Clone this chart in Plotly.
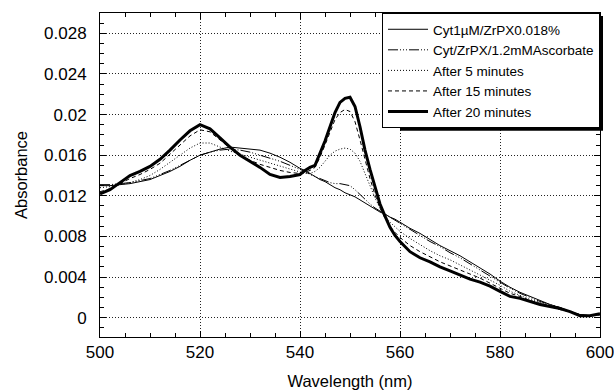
import plotly.graph_objects as go

wavelength = [500, 502, 504, 506, 508, 510, 512, 514, 516, 518, 520, 522, 524, 526, 528, 530,
              532, 534, 536, 538, 540, 541, 542, 543, 544, 545, 546, 547, 548, 549, 550, 551,
              552, 553, 554, 555, 556, 557, 558, 559, 560, 562, 564, 566, 568, 570, 572, 574,
              576, 578, 580, 582, 584, 586, 588, 590, 592, 594, 596, 598, 600]

cyt_initial = [0.0130, 0.0130, 0.0131, 0.0132, 0.0134, 0.0136, 0.0140, 0.0144, 0.0149, 0.0155,
               0.0160, 0.0163, 0.0166, 0.0168, 0.0167, 0.0166, 0.0165, 0.0162, 0.0158, 0.0153,
               0.0147, 0.0145, 0.0142, 0.0139, 0.0136, 0.0134, 0.0131, 0.0128, 0.0126, 0.0123,
               0.0121, 0.0119, 0.0116, 0.0113, 0.0110, 0.0107, 0.0104, 0.0102, 0.0099, 0.0097,
               0.0094, 0.0088, 0.0083, 0.0077, 0.0071, 0.0066, 0.0061, 0.0055, 0.0049, 0.0043,
               0.0036, 0.0030, 0.0025, 0.0021, 0.0017, 0.0013, 0.0010, 0.0006, 0.0003, 0.0002,
               0.0003]

cyt_ascorbate = [0.0131, 0.0131, 0.0132, 0.0133, 0.0135, 0.0137, 0.0141, 0.0145, 0.0150, 0.0155,
                 0.0160, 0.0163, 0.0165, 0.0166, 0.0165, 0.0163, 0.0160, 0.0157, 0.0154, 0.0150,
                 0.0146, 0.0144, 0.0141, 0.0139, 0.0137, 0.0135, 0.0133, 0.0132, 0.0132, 0.0131,
                 0.0130, 0.0126, 0.0121, 0.0116, 0.0112, 0.0108, 0.0105, 0.0102, 0.0099, 0.0096,
                 0.0093, 0.0087, 0.0081, 0.0075, 0.0070, 0.0064, 0.0059, 0.0053, 0.0047, 0.0041,
                 0.0035, 0.0029, 0.0024, 0.0020, 0.0016, 0.0013, 0.0010, 0.0006, 0.0003, 0.0002,
                 0.0003]

after_5 = [0.0128, 0.0129, 0.0131, 0.0133, 0.0136, 0.0140, 0.0146, 0.0153, 0.0160, 0.0167,
           0.0172, 0.0172, 0.0168, 0.0164, 0.0161, 0.0158, 0.0155, 0.0152, 0.0149, 0.0146,
           0.0143, 0.0142, 0.0142, 0.0144, 0.0148, 0.0154, 0.0160, 0.0164, 0.0166, 0.0167,
           0.0166, 0.0162, 0.0154, 0.0142, 0.0130, 0.0118, 0.0108, 0.0100, 0.0094, 0.0089,
           0.0085, 0.0078, 0.0072, 0.0066, 0.0061, 0.0057, 0.0052, 0.0047, 0.0042, 0.0037,
           0.0032, 0.0026, 0.0022, 0.0018, 0.0015, 0.0012, 0.0009, 0.0006, 0.0003, 0.0002,
           0.0003]

after_15 = [0.0124, 0.0127, 0.0132, 0.0137, 0.0141, 0.0146, 0.0152, 0.0161, 0.0170, 0.0179,
            0.0185, 0.0183, 0.0175, 0.0167, 0.0160, 0.0155, 0.0151, 0.0148, 0.0145, 0.0143,
            0.0142, 0.0143, 0.0145, 0.0148, 0.0158, 0.0170, 0.0183, 0.0195, 0.0202, 0.0205,
            0.0203, 0.0193, 0.0175, 0.0155, 0.0137, 0.0121, 0.0108, 0.0098, 0.0090, 0.0084,
            0.0079, 0.0071, 0.0065, 0.0060, 0.0055, 0.0051, 0.0047, 0.0043, 0.0039, 0.0034,
            0.0029, 0.0024, 0.0021, 0.0017, 0.0014, 0.0011, 0.0008, 0.0006, 0.0002, 0.0002,
            0.0003]

after_20 = [0.0122, 0.0126, 0.0133, 0.0140, 0.0144, 0.0149, 0.0156, 0.0165, 0.0175, 0.0184,
            0.0190, 0.0186, 0.0177, 0.0168, 0.0160, 0.0154, 0.0148, 0.0141, 0.0138, 0.0139,
            0.0141, 0.0145, 0.0148, 0.0150, 0.0162, 0.0174, 0.0188, 0.0202, 0.0212, 0.0216,
            0.0217, 0.0208, 0.0188, 0.0165, 0.0146, 0.0128, 0.0112, 0.0100, 0.0089, 0.0081,
            0.0075, 0.0065, 0.0059, 0.0055, 0.0050, 0.0046, 0.0042, 0.0038, 0.0035, 0.0031,
            0.0026, 0.0021, 0.0019, 0.0016, 0.0013, 0.0011, 0.0009, 0.0006, 0.0002, 0.0002,
            0.0004]

series_names = ["Cyt1\u00b5M/ZrPX0.018%", "Cyt/ZrPX/1.2mMAscorbate", "After 5 minutes",
                "After 15 minutes", "After 20 minutes"]
series_values = [cyt_initial, cyt_ascorbate, after_5, after_15, after_20]
series_dash = ["solid", "10px,2px,1px,2px,1px,2px,1px,2px", "1px,2px", "4px,3px", "solid"]
series_width = [1, 1, 1, 1, 3]

x_ticks = [500, 520, 540, 560, 580, 600]
y_ticks = [0, 0.004, 0.008, 0.012, 0.016, 0.02, 0.024, 0.028]
y_tick_labels = ["0", "0.004", "0.008", "0.012", "0.016", "0.02", "0.024", "0.028"]

fig = go.Figure()
for name, vals, dash, w in zip(series_names, series_values, series_dash, series_width):
    fig.add_trace(go.Scatter(x=wavelength, y=vals, mode="lines", name=name,
                             line=dict(color="black", width=w, dash=dash)))

font_family = "Liberation Sans, Arial, Helvetica, sans-serif"

# legend geometry (plotly: item height = 1.3*font + 3, plus 2*(border+5) padding)
W, H = 614, 391
ML, MR, MT, MB = 100, 14, 13, 54
legend_font = 13.5
legend_h_px = len(series_names) * (legend_font * 1.3 + 3) + 12
plot_h = H - MT - MB
plot_w = W - ML - MR
shadow_off = 3
fig.add_shape(type="rect", xref="paper", yref="paper", layer="above",
              x0=0.6, x1=1 + shadow_off / plot_w,
              y0=1 - (legend_h_px + shadow_off) / plot_h, y1=1 - shadow_off / plot_h,
              fillcolor="black", line=dict(width=0))

fig.update_layout(
    width=W, height=H,
    margin=dict(l=ML, r=MR, t=MT, b=MB, autoexpand=False),
    paper_bgcolor="white", plot_bgcolor="white",
    font=dict(family=font_family, size=16, color="black"),
    showlegend=True,
    legend=dict(x=1.0, y=1.0, xanchor="right", yanchor="top",
                bgcolor="white", bordercolor="black", borderwidth=1,
                font=dict(size=legend_font, family=font_family),
                tracegroupgap=0, itemwidth=40),
)

fig.update_xaxes(
    range=[500, 600], tickvals=x_ticks, ticks="inside", ticklen=6, tickcolor="black",
    showline=True, linecolor="black", linewidth=1, mirror="ticks",
    showgrid=True, gridcolor="#222", griddash="1px,2px", gridwidth=1, zeroline=False,
    minor=dict(dtick=5, ticks="inside", ticklen=4, tickcolor="black", showgrid=False),
    title=dict(text="Wavelength (nm)", standoff=14, font=dict(size=16.5)),
    tickfont=dict(size=17), ticklabelstandoff=0, ticklabeloverflow="allow",
    automargin=False,
)
fig.update_yaxes(
    range=[-0.0019, 0.030], tickvals=y_ticks, ticktext=y_tick_labels,
    ticks="inside", ticklen=6, tickcolor="black",
    showline=True, linecolor="black", linewidth=1, mirror="ticks",
    showgrid=True, gridcolor="#222", griddash="1px,2px", gridwidth=1, zeroline=False,
    minor=dict(dtick=0.001, tick0=0, ticks="inside", ticklen=4, tickcolor="black", showgrid=False),
    title=dict(text="Absorbance", standoff=12, font=dict(size=16.5)),
    tickfont=dict(size=17), ticklabelstandoff=9, ticklabeloverflow="allow",
    automargin=False,
)

fig.write_html("out.html")
